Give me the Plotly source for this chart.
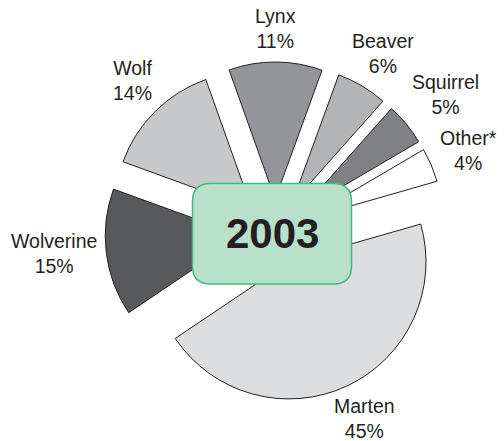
import math
import plotly.graph_objects as go

labels = ["Marten", "Wolverine", "Wolf", "Lynx", "Beaver", "Squirrel", "Other*"]
values = [45, 15, 14, 11, 6, 5, 4]
colors = ["#dcdddf", "#58595b", "#c7c8ca", "#939598", "#b3b4b6", "#808184", "#ffffff"]
year_label = "2003"

W, H = 504, 441
ROT = 74          # start angle of first slice, degrees clockwise from 12 o'clock
PULL = 0.24
CX, CY, D = 275, 232, 340   # pie box centre and size in pixels
FONT = "Liberation Sans, Arial, sans-serif"
FS = 19.5

fig = go.Figure()
fig.add_trace(go.Pie(
    labels=labels,
    values=values,
    sort=False,
    direction="clockwise",
    rotation=ROT,
    pull=[PULL] * len(values),
    marker=dict(colors=colors, line=dict(color="#231f20", width=1)),
    textinfo="none",
    hoverinfo="skip",
    showlegend=False,
    domain=dict(x=[(CX - D / 2) / W, (CX + D / 2) / W],
                y=[1 - (CY + D / 2) / H, 1 - (CY - D / 2) / H]),
))

# hidden pixel axes for overlays
fig.update_xaxes(visible=False, range=[0, W], fixedrange=True)
fig.update_yaxes(visible=False, range=[H, 0], fixedrange=True)
fig.add_trace(go.Scatter(x=[0, W], y=[0, H], mode="markers", marker=dict(opacity=0),
                         hoverinfo="skip", showlegend=False))

# outside labels: anchored just beyond each pulled slice's outer edge
total = sum(values)
radius = D / 2 / (1 + PULL)
cum = 0
for lab, v in zip(labels, values):
    mid = ROT + 360 * (cum + v / 2) / total
    cum += v
    a = math.radians(90 - mid)
    dx, dy = math.cos(a), -math.sin(a)
    pct = f"{round(100 * v / total)}%"
    tw = max(len(lab) * 0.48, (len(pct) + 1) * 0.52) * FS
    th = 2 * 1.2 * FS
    dist = radius * (1 + PULL) + 10
    fx = max(-1, min(1, 1.1 * dx))
    fy = math.copysign(max(0, min(1, (abs(dy) - 0.2) * 2.4)), dy)
    px = CX + dist * dx + fx * tw / 2
    py = CY + dist * dy + fy * th / 2
    fig.add_annotation(x=px, y=py, xref="x", yref="y", showarrow=False,
                       text=f"{lab}<br>{pct}",
                       font=dict(family=FONT, size=FS, color="#231f20"))

x0, x1, y0, y1, r = 192.5, 351.5, 183.5, 284, 18
path = (f"M {x0+r},{y0} L {x1-r},{y0} Q {x1},{y0} {x1},{y0+r} "
        f"L {x1},{y1-r} Q {x1},{y1} {x1-r},{y1} L {x0+r},{y1} "
        f"Q {x0},{y1} {x0},{y1-r} L {x0},{y0+r} Q {x0},{y0} {x0+r},{y0} Z")
fig.add_shape(type="path", path=path, xref="x", yref="y",
              fillcolor="#b9e0cb", line=dict(color="#3dba7e", width=1.5), layer="above")
fig.add_annotation(x=(x0 + x1) / 2, y=(y0 + y1) / 2, xref="x", yref="y",
                   text=f"<b>{year_label}</b>", showarrow=False,
                   font=dict(family=FONT, size=42, color="#231f20"))

fig.update_layout(
    width=W, height=H,
    margin=dict(l=0, r=0, t=0, b=0),
    paper_bgcolor="white", plot_bgcolor="white",
)

fig.write_html("out.html", config={"displayModeBar": False, "staticPlot": True},
               post_script="document.body.style.margin='0';document.body.style.overflow='hidden';")
